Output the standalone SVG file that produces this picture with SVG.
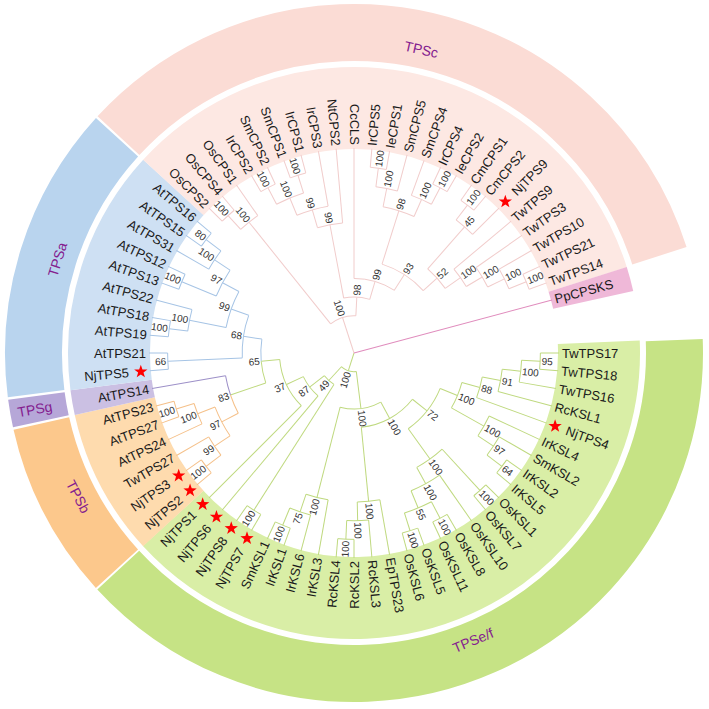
<svg xmlns="http://www.w3.org/2000/svg" width="709" height="709" viewBox="0 0 709 709">
<style>
.e{fill:none;stroke-width:1}
.g{stroke:#bfd97f}
.o{stroke:#f5c089}
.p{stroke:#9d90c8}
.b{stroke:#a6c4e5}
.k{stroke:#f1cccb}
.m{stroke:#e08cbd}
.bd{fill:none}
.lf{font-family:"Liberation Sans",Arial,sans-serif;font-size:13px;fill:#1a1a1a;dominant-baseline:central}
.bs{font-family:"Liberation Sans",Arial,sans-serif;font-size:10px;fill:#333;dominant-baseline:central}
.cl{font-family:"Liberation Sans",Arial,sans-serif;font-size:14px;fill:#84208f;dominant-baseline:central;text-anchor:middle}
.l{text-anchor:end}
.st{fill:#f00}
</style>
<defs>
<path id="star" d="M0,-7L1.646,-2.265L6.657,-2.163L2.663,0.865L4.114,5.663L0,2.8L-4.114,5.663L-2.663,0.865L-6.657,-2.163L-1.646,-2.265Z"/>
</defs>
<rect width="709" height="709" fill="#fff"/>
<g transform="translate(354,353)">
<g id="bands">
<g id="band-TPSef"><circle class="bd" r="245" stroke="#d9eea6" stroke-width="82" stroke-dasharray="598.65 3000" transform="rotate(-2.5)"/><circle class="bd" r="320.5" stroke="#c6e385" stroke-width="57" stroke-dasharray="780.89 3000" transform="rotate(-2.3)"/><text class="cl" transform="rotate(67.5) translate(311,0) rotate(-90)">TPSe/f</text></g>
<g id="band-TPSb"><circle class="bd" r="245" stroke="#fedbae" stroke-width="82" stroke-dasharray="128.28 3000" transform="rotate(137.5)"/><circle class="bd" r="320.5" stroke="#fcc88c" stroke-width="57" stroke-dasharray="165.58 3000" transform="rotate(137.7)"/><text class="cl" transform="rotate(152.5) translate(311,0) rotate(-90)">TPSb</text></g>
<g id="band-TPSg"><circle class="bd" r="245" stroke="#cbc0e3" stroke-width="82" stroke-dasharray="21.38 3000" transform="rotate(167.5)"/><circle class="bd" r="320.5" stroke="#b6a7d8" stroke-width="57" stroke-dasharray="25.73 3000" transform="rotate(167.7)"/><text class="cl" transform="rotate(170) translate(324,0) rotate(180)">TPSg</text></g>
<g id="band-TPSa"><circle class="bd" r="245" stroke="#cee0f3" stroke-width="82" stroke-dasharray="213.80 3000" transform="rotate(172.5)"/><circle class="bd" r="320.5" stroke="#b9d4ee" stroke-width="57" stroke-dasharray="277.45 3000" transform="rotate(172.7)"/><text class="cl" transform="rotate(197.5) translate(311,0) rotate(90)">TPSa</text></g>
<g id="band-TPSc"><circle class="bd" r="245" stroke="#fde8e3" stroke-width="82" stroke-dasharray="513.13 3000" transform="rotate(222.5)"/><circle class="bd" r="320.5" stroke="#fbdcd5" stroke-width="57" stroke-dasharray="669.02 3000" transform="rotate(222.7)"/><text class="cl" transform="rotate(282.5) translate(311,0) rotate(90)">TPSc</text></g>
<g id="band-Pp"><circle class="bd" r="245" stroke="#efb8d8" stroke-width="82" stroke-dasharray="21.38 3000" transform="rotate(342.5)"/></g>
</g>
<g id="connectors">
<g class="e g">
<path d="M186.4 0H205"/>
<path d="M186.4 0H205" transform="rotate(5)"/>
<path d="M167.7 0H205" transform="rotate(10)"/>
<path d="M149.1 0H205" transform="rotate(15)"/>
<path d="M130.5 0H205" transform="rotate(20)"/>
<path d="M149.1 0H205" transform="rotate(25)"/>
<path d="M167.7 0H205" transform="rotate(30)"/>
<path d="M186.4 0H205" transform="rotate(35)"/>
<path d="M186.4 0H205" transform="rotate(40)"/>
<path d="M186.4 0H205" transform="rotate(45)"/>
<path d="M186.4 0H205" transform="rotate(50)"/>
<path d="M149.1 0H205" transform="rotate(55)"/>
<path d="M186.4 0H205" transform="rotate(60)"/>
<path d="M186.4 0H205" transform="rotate(65)"/>
<path d="M186.4 0H205" transform="rotate(70)"/>
<path d="M186.4 0H205" transform="rotate(75)"/>
<path d="M149.1 0H205" transform="rotate(80)"/>
<path d="M167.7 0H205" transform="rotate(85)"/>
<path d="M186.4 0H205" transform="rotate(90)"/>
<path d="M186.4 0H205" transform="rotate(95)"/>
<path d="M149.1 0H205" transform="rotate(100)"/>
<path d="M167.7 0H205" transform="rotate(105)"/>
<path d="M186.4 0H205" transform="rotate(110)"/>
<path d="M186.4 0H205" transform="rotate(115)"/>
<path d="M186.4 0H205" transform="rotate(120)"/>
<path d="M186.4 0H205" transform="rotate(125)"/>
<path d="M55.9 0H205" transform="rotate(130)"/>
<path d="M74.5 0H205" transform="rotate(135)"/>
<path d="M167.7 0H186.4" transform="rotate(2.5)"/>
<path d="M149.1 0H167.7" transform="rotate(6.25)"/>
<path d="M130.5 0H149.1" transform="rotate(10.625)"/>
<path d="M111.8 0H130.5" transform="rotate(15.3125)"/>
<path d="M167.7 0H186.4" transform="rotate(37.5)"/>
<path d="M149.1 0H167.7" transform="rotate(33.75)"/>
<path d="M111.8 0H149.1" transform="rotate(29.375)"/>
<path d="M93.2 0H111.8" transform="rotate(22.344)"/>
<path d="M130.5 0H186.4" transform="rotate(47.5)"/>
<path d="M167.7 0H186.4" transform="rotate(62.5)"/>
<path d="M167.7 0H186.4" transform="rotate(72.5)"/>
<path d="M149.1 0H167.7" transform="rotate(67.5)"/>
<path d="M130.5 0H149.1" transform="rotate(61.25)"/>
<path d="M93.2 0H130.5" transform="rotate(54.375)"/>
<path d="M74.5 0H93.2" transform="rotate(38.359)"/>
<path d="M167.7 0H186.4" transform="rotate(92.5)"/>
<path d="M149.1 0H167.7" transform="rotate(88.75)"/>
<path d="M74.5 0H149.1" transform="rotate(84.375)"/>
<path d="M55.9 0H74.5" transform="rotate(61.367)"/>
<path d="M167.7 0H186.4" transform="rotate(112.5)"/>
<path d="M149.1 0H167.7" transform="rotate(108.75)"/>
<path d="M55.9 0H149.1" transform="rotate(104.375)"/>
<path d="M18.6 0H55.9" transform="rotate(82.871)"/>
<path d="M37.3 0H186.4" transform="rotate(122.5)"/>
<path d="M93.2 0H130.5" transform="rotate(161.25)"/>
<path d="M74.5 0H93.2" transform="rotate(174.922)"/>
<path d="M55.9 0H74.5" transform="rotate(154.961)"/>
<path d="M37.3 0H55.9" transform="rotate(142.48)"/>
<path d="M18.6 0H37.3" transform="rotate(132.49)"/>
<path d="M0 0H18.6" transform="rotate(107.68)"/>
<circle r="186.36" stroke-dasharray="16.26 3000"/>
<circle r="167.73" stroke-dasharray="21.96 3000" transform="rotate(2.5)"/>
<circle r="149.09" stroke-dasharray="22.77 3000" transform="rotate(6.25)"/>
<circle r="130.45" stroke-dasharray="21.35 3000" transform="rotate(10.625)"/>
<circle r="186.36" stroke-dasharray="16.26 3000" transform="rotate(35)"/>
<circle r="167.73" stroke-dasharray="21.96 3000" transform="rotate(30)"/>
<circle r="149.09" stroke-dasharray="22.77 3000" transform="rotate(25)"/>
<circle r="111.82" stroke-dasharray="27.44 3000" transform="rotate(15.3125)"/>
<circle r="186.36" stroke-dasharray="16.26 3000" transform="rotate(45)"/>
<circle r="186.36" stroke-dasharray="16.26 3000" transform="rotate(60)"/>
<circle r="186.36" stroke-dasharray="16.26 3000" transform="rotate(70)"/>
<circle r="167.73" stroke-dasharray="29.27 3000" transform="rotate(62.5)"/>
<circle r="149.09" stroke-dasharray="32.53 3000" transform="rotate(55)"/>
<circle r="130.45" stroke-dasharray="31.31 3000" transform="rotate(47.5)"/>
<circle r="93.18" stroke-dasharray="52.09 3000" transform="rotate(22.344)"/>
<circle r="186.36" stroke-dasharray="16.26 3000" transform="rotate(90)"/>
<circle r="167.73" stroke-dasharray="21.96 3000" transform="rotate(85)"/>
<circle r="149.09" stroke-dasharray="22.77 3000" transform="rotate(80)"/>
<circle r="74.55" stroke-dasharray="59.87 3000" transform="rotate(38.359)"/>
<circle r="186.36" stroke-dasharray="16.26 3000" transform="rotate(110)"/>
<circle r="167.73" stroke-dasharray="21.96 3000" transform="rotate(105)"/>
<circle r="149.09" stroke-dasharray="22.77 3000" transform="rotate(100)"/>
<circle r="55.91" stroke-dasharray="41.97 3000" transform="rotate(61.367)"/>
<circle r="186.36" stroke-dasharray="16.26 3000" transform="rotate(120)"/>
<circle r="93.18" stroke-dasharray="22.23 3000" transform="rotate(161.25)"/>
<circle r="74.55" stroke-dasharray="51.94 3000" transform="rotate(135)"/>
<circle r="55.91" stroke-dasharray="24.36 3000" transform="rotate(130)"/>
<circle r="37.27" stroke-dasharray="13.00 3000" transform="rotate(122.5)"/>
<circle r="18.64" stroke-dasharray="16.14 3000" transform="rotate(82.871)"/>
</g>
<g class="e o">
<path d="M186.4 0H205" transform="rotate(140)"/>
<path d="M186.4 0H205" transform="rotate(145)"/>
<path d="M167.7 0H205" transform="rotate(150)"/>
<path d="M167.7 0H205" transform="rotate(155)"/>
<path d="M186.4 0H205" transform="rotate(160)"/>
<path d="M186.4 0H205" transform="rotate(165)"/>
<path d="M167.7 0H186.4" transform="rotate(142.5)"/>
<path d="M149.1 0H167.7" transform="rotate(146.25)"/>
<path d="M167.7 0H186.4" transform="rotate(162.5)"/>
<path d="M149.1 0H167.7" transform="rotate(158.75)"/>
<path d="M130.5 0H149.1" transform="rotate(152.5)"/>
<circle r="186.36" stroke-dasharray="16.26 3000" transform="rotate(140)"/>
<circle r="167.73" stroke-dasharray="21.96 3000" transform="rotate(142.5)"/>
<circle r="186.36" stroke-dasharray="16.26 3000" transform="rotate(160)"/>
<circle r="167.73" stroke-dasharray="21.96 3000" transform="rotate(155)"/>
<circle r="149.09" stroke-dasharray="32.53 3000" transform="rotate(146.25)"/>
<circle r="130.45" stroke-dasharray="19.92 3000" transform="rotate(152.5)"/>
</g>
<g class="e p">
<path d="M130.5 0H205" transform="rotate(170)"/>
<circle r="130.45" stroke-dasharray="19.92 3000" transform="rotate(161.25)"/>
</g>
<g class="e b">
<path d="M186.4 0H205" transform="rotate(175)"/>
<path d="M186.4 0H205" transform="rotate(180)"/>
<path d="M186.4 0H205" transform="rotate(185)"/>
<path d="M186.4 0H205" transform="rotate(190)"/>
<path d="M167.7 0H205" transform="rotate(195)"/>
<path d="M186.4 0H205" transform="rotate(200)"/>
<path d="M186.4 0H205" transform="rotate(205)"/>
<path d="M167.7 0H205" transform="rotate(210)"/>
<path d="M186.4 0H205" transform="rotate(215)"/>
<path d="M186.4 0H205" transform="rotate(220)"/>
<path d="M111.8 0H186.4" transform="rotate(177.5)"/>
<path d="M167.7 0H186.4" transform="rotate(187.5)"/>
<path d="M130.5 0H167.7" transform="rotate(191.25)"/>
<path d="M149.1 0H186.4" transform="rotate(202.5)"/>
<path d="M167.7 0H186.4" transform="rotate(217.5)"/>
<path d="M149.1 0H167.7" transform="rotate(213.75)"/>
<path d="M130.5 0H149.1" transform="rotate(208.125)"/>
<path d="M111.8 0H130.5" transform="rotate(199.6875)"/>
<path d="M93.2 0H111.8" transform="rotate(188.594)"/>
<circle r="186.36" stroke-dasharray="16.26 3000" transform="rotate(175)"/>
<circle r="186.36" stroke-dasharray="16.26 3000" transform="rotate(185)"/>
<circle r="167.73" stroke-dasharray="21.96 3000" transform="rotate(187.5)"/>
<circle r="186.36" stroke-dasharray="16.26 3000" transform="rotate(200)"/>
<circle r="186.36" stroke-dasharray="16.26 3000" transform="rotate(215)"/>
<circle r="167.73" stroke-dasharray="21.96 3000" transform="rotate(210)"/>
<circle r="149.09" stroke-dasharray="29.27 3000" transform="rotate(202.5)"/>
<circle r="130.45" stroke-dasharray="38.42 3000" transform="rotate(191.25)"/>
<circle r="111.82" stroke-dasharray="43.30 3000" transform="rotate(177.5)"/>
<circle r="93.18" stroke-dasharray="22.23 3000" transform="rotate(174.922)"/>
</g>
<g class="e k">
<path d="M186.4 0H205" transform="rotate(225)"/>
<path d="M186.4 0H205" transform="rotate(230)"/>
<path d="M167.7 0H205" transform="rotate(235)"/>
<path d="M186.4 0H205" transform="rotate(240)"/>
<path d="M186.4 0H205" transform="rotate(245)"/>
<path d="M186.4 0H205" transform="rotate(250)"/>
<path d="M186.4 0H205" transform="rotate(255)"/>
<path d="M149.1 0H205" transform="rotate(260)"/>
<path d="M130.5 0H205" transform="rotate(265)"/>
<path d="M74.5 0H205" transform="rotate(270)"/>
<path d="M186.4 0H205" transform="rotate(275)"/>
<path d="M186.4 0H205" transform="rotate(280)"/>
<path d="M167.7 0H205" transform="rotate(285)"/>
<path d="M167.7 0H205" transform="rotate(290)"/>
<path d="M186.4 0H205" transform="rotate(295)"/>
<path d="M186.4 0H205" transform="rotate(300)"/>
<path d="M186.4 0H205" transform="rotate(305)"/>
<path d="M186.4 0H205" transform="rotate(310)"/>
<path d="M167.7 0H205" transform="rotate(315)"/>
<path d="M130.5 0H205" transform="rotate(320)"/>
<path d="M149.1 0H205" transform="rotate(325)"/>
<path d="M167.7 0H205" transform="rotate(330)"/>
<path d="M186.4 0H205" transform="rotate(335)"/>
<path d="M186.4 0H205" transform="rotate(340)"/>
<path d="M167.7 0H186.4" transform="rotate(227.5)"/>
<path d="M37.3 0H167.7" transform="rotate(231.25)"/>
<path d="M167.7 0H186.4" transform="rotate(242.5)"/>
<path d="M167.7 0H186.4" transform="rotate(252.5)"/>
<path d="M149.1 0H167.7" transform="rotate(247.5)"/>
<path d="M130.5 0H149.1" transform="rotate(253.75)"/>
<path d="M55.9 0H130.5" transform="rotate(259.375)"/>
<path d="M167.7 0H186.4" transform="rotate(277.5)"/>
<path d="M149.1 0H167.7" transform="rotate(281.25)"/>
<path d="M167.7 0H186.4" transform="rotate(297.5)"/>
<path d="M149.1 0H167.7" transform="rotate(293.75)"/>
<path d="M93.2 0H149.1" transform="rotate(287.5)"/>
<path d="M167.7 0H186.4" transform="rotate(307.5)"/>
<path d="M111.8 0H167.7" transform="rotate(311.25)"/>
<path d="M167.7 0H186.4" transform="rotate(337.5)"/>
<path d="M149.1 0H167.7" transform="rotate(333.75)"/>
<path d="M130.5 0H149.1" transform="rotate(329.375)"/>
<path d="M111.8 0H130.5" transform="rotate(324.6875)"/>
<path d="M93.2 0H111.8" transform="rotate(317.969)"/>
<path d="M74.5 0H93.2" transform="rotate(302.734)"/>
<path d="M55.9 0H74.5" transform="rotate(286.367)"/>
<path d="M37.3 0H55.9" transform="rotate(272.871)"/>
<path d="M0 0H37.3" transform="rotate(252.06)"/>
<circle r="186.36" stroke-dasharray="16.26 3000" transform="rotate(225)"/>
<circle r="167.73" stroke-dasharray="21.96 3000" transform="rotate(227.5)"/>
<circle r="186.36" stroke-dasharray="16.26 3000" transform="rotate(240)"/>
<circle r="186.36" stroke-dasharray="16.26 3000" transform="rotate(250)"/>
<circle r="167.73" stroke-dasharray="29.27 3000" transform="rotate(242.5)"/>
<circle r="149.09" stroke-dasharray="32.53 3000" transform="rotate(247.5)"/>
<circle r="130.45" stroke-dasharray="25.61 3000" transform="rotate(253.75)"/>
<circle r="186.36" stroke-dasharray="16.26 3000" transform="rotate(275)"/>
<circle r="167.73" stroke-dasharray="21.96 3000" transform="rotate(277.5)"/>
<circle r="186.36" stroke-dasharray="16.26 3000" transform="rotate(295)"/>
<circle r="167.73" stroke-dasharray="21.96 3000" transform="rotate(290)"/>
<circle r="149.09" stroke-dasharray="32.53 3000" transform="rotate(281.25)"/>
<circle r="186.36" stroke-dasharray="16.26 3000" transform="rotate(305)"/>
<circle r="167.73" stroke-dasharray="21.96 3000" transform="rotate(307.5)"/>
<circle r="186.36" stroke-dasharray="16.26 3000" transform="rotate(335)"/>
<circle r="167.73" stroke-dasharray="21.96 3000" transform="rotate(330)"/>
<circle r="149.09" stroke-dasharray="22.77 3000" transform="rotate(325)"/>
<circle r="130.45" stroke-dasharray="21.35 3000" transform="rotate(320)"/>
<circle r="111.82" stroke-dasharray="26.22 3000" transform="rotate(311.25)"/>
<circle r="93.18" stroke-dasharray="49.55 3000" transform="rotate(287.5)"/>
<circle r="74.55" stroke-dasharray="42.59 3000" transform="rotate(270)"/>
<circle r="55.91" stroke-dasharray="26.34 3000" transform="rotate(259.375)"/>
<circle r="37.27" stroke-dasharray="27.08 3000" transform="rotate(231.25)"/>
</g>
<g class="e m"><path d="M0 0H205" transform="rotate(345)"/></g>
</g>
<g id="bootstrap" class="bs">
<text transform="rotate(2.5) translate(187.9,0)">95</text>
<text transform="rotate(6.25) translate(169.2,0)">100</text>
<text transform="rotate(10.625) translate(150.6,0)">91</text>
<text transform="rotate(15.3125) translate(132,0)">88</text>
<text transform="rotate(22.344) translate(113.3,0)">100</text>
<text transform="rotate(37.5) translate(187.9,0)">64</text>
<text transform="rotate(33.75) translate(169.2,0)">97</text>
<text transform="rotate(29.375) translate(150.6,0)">100</text>
<text transform="rotate(47.5) translate(187.9,0)">100</text>
<text transform="rotate(62.5) translate(187.9,0)">100</text>
<text transform="rotate(72.5) translate(187.9,0)">100</text>
<text transform="rotate(67.5) translate(169.2,0)">55</text>
<text transform="rotate(61.25) translate(150.6,0)">100</text>
<text transform="rotate(54.375) translate(132,0)">100</text>
<text transform="rotate(38.359) translate(94.7,0)">72</text>
<text transform="rotate(88.75) translate(169.2,0)">100</text>
<text transform="rotate(84.375) translate(150.6,0)">100</text>
<text transform="rotate(61.367) translate(76,0)">100</text>
<text transform="rotate(82.871) translate(57.4,0)">100</text>
<text transform="rotate(277.5) translate(187.9,0)">100</text>
<text transform="rotate(281.25) translate(169.2,0)">100</text>
<text transform="rotate(297.5) translate(187.9,0)">100</text>
<text transform="rotate(293.75) translate(169.2,0)">100</text>
<text transform="rotate(287.5) translate(150.6,0)">98</text>
<text transform="rotate(307.5) translate(187.9,0)">100</text>
<text transform="rotate(311.25) translate(169.2,0)">45</text>
<text transform="rotate(337.5) translate(187.9,0)">100</text>
<text transform="rotate(333.75) translate(169.2,0)">100</text>
<text transform="rotate(329.375) translate(150.6,0)">100</text>
<text transform="rotate(324.6875) translate(132,0)">100</text>
<text transform="rotate(317.969) translate(113.3,0)">52</text>
<text transform="rotate(302.734) translate(94.7,0)">93</text>
<text transform="rotate(286.367) translate(76,0)">99</text>
<text transform="rotate(272.871) translate(57.4,0)">98</text>
<text class="l" transform="rotate(92.5) translate(187.9,0) rotate(180)">100</text>
<text class="l" transform="rotate(112.5) translate(187.9,0) rotate(180)">100</text>
<text class="l" transform="rotate(108.75) translate(169.2,0) rotate(180)">75</text>
<text class="l" transform="rotate(104.375) translate(150.6,0) rotate(180)">100</text>
<text class="l" transform="rotate(122.5) translate(187.9,0) rotate(180)">100</text>
<text class="l" transform="rotate(142.5) translate(187.9,0) rotate(180)">100</text>
<text class="l" transform="rotate(146.25) translate(169.2,0) rotate(180)">99</text>
<text class="l" transform="rotate(162.5) translate(187.9,0) rotate(180)">100</text>
<text class="l" transform="rotate(158.75) translate(169.2,0) rotate(180)">100</text>
<text class="l" transform="rotate(152.5) translate(150.6,0) rotate(180)">97</text>
<text class="l" transform="rotate(161.25) translate(132,0) rotate(180)">83</text>
<text class="l" transform="rotate(177.5) translate(187.9,0) rotate(180)">66</text>
<text class="l" transform="rotate(187.5) translate(187.9,0) rotate(180)">100</text>
<text class="l" transform="rotate(191.25) translate(169.2,0) rotate(180)">100</text>
<text class="l" transform="rotate(202.5) translate(187.9,0) rotate(180)">100</text>
<text class="l" transform="rotate(217.5) translate(187.9,0) rotate(180)">80</text>
<text class="l" transform="rotate(213.75) translate(169.2,0) rotate(180)">100</text>
<text class="l" transform="rotate(208.125) translate(150.6,0) rotate(180)">97</text>
<text class="l" transform="rotate(199.6875) translate(132,0) rotate(180)">99</text>
<text class="l" transform="rotate(188.594) translate(113.3,0) rotate(180)">68</text>
<text class="l" transform="rotate(174.922) translate(94.7,0) rotate(180)">65</text>
<text class="l" transform="rotate(154.961) translate(76,0) rotate(180)">37</text>
<text class="l" transform="rotate(142.48) translate(57.4,0) rotate(180)">87</text>
<text class="l" transform="rotate(132.49) translate(38.8,0) rotate(180)">49</text>
<text class="l" transform="rotate(107.68) translate(20.1,0) rotate(180)">100</text>
<text class="l" transform="rotate(227.5) translate(187.9,0) rotate(180)">100</text>
<text class="l" transform="rotate(231.25) translate(169.2,0) rotate(180)">100</text>
<text class="l" transform="rotate(242.5) translate(187.9,0) rotate(180)">100</text>
<text class="l" transform="rotate(252.5) translate(187.9,0) rotate(180)">100</text>
<text class="l" transform="rotate(247.5) translate(169.2,0) rotate(180)">100</text>
<text class="l" transform="rotate(253.75) translate(150.6,0) rotate(180)">99</text>
<text class="l" transform="rotate(259.375) translate(132,0) rotate(180)">99</text>
<text class="l" transform="rotate(252.06) translate(38.8,0) rotate(180)">100</text>
</g>
<g id="leaves" class="lf">
<g id="TwTPS17"><text transform="rotate(0) translate(208,0)">TwTPS17</text></g>
<g id="TwTPS18"><text transform="rotate(5) translate(208,0)">TwTPS18</text></g>
<g id="TwTPS16"><text transform="rotate(10) translate(208,0)">TwTPS16</text></g>
<g id="RcKSL1"><text transform="rotate(15) translate(208,0)">RcKSL1</text></g>
<g id="NjTPS4"><use href="#star" class="st" transform="rotate(20) translate(214,0) rotate(-20)"/><text transform="rotate(20) translate(226,0)">NjTPS4</text></g>
<g id="IrKSL4"><text transform="rotate(25) translate(208,0)">IrKSL4</text></g>
<g id="SmKSL2"><text transform="rotate(30) translate(208,0)">SmKSL2</text></g>
<g id="IrKSL2"><text transform="rotate(35) translate(208,0)">IrKSL2</text></g>
<g id="IrKSL5"><text transform="rotate(40) translate(208,0)">IrKSL5</text></g>
<g id="OsKSL1"><text transform="rotate(45) translate(208,0)">OsKSL1</text></g>
<g id="OsKSL7"><text transform="rotate(50) translate(208,0)">OsKSL7</text></g>
<g id="OsKSL10"><text transform="rotate(55) translate(208,0)">OsKSL10</text></g>
<g id="OsKSL8"><text transform="rotate(60) translate(208,0)">OsKSL8</text></g>
<g id="OsKSL11"><text transform="rotate(65) translate(208,0)">OsKSL11</text></g>
<g id="OsKSL5"><text transform="rotate(70) translate(208,0)">OsKSL5</text></g>
<g id="OsKSL6"><text transform="rotate(75) translate(208,0)">OsKSL6</text></g>
<g id="EpTPS23"><text transform="rotate(80) translate(208,0)">EpTPS23</text></g>
<g id="RcKSL3"><text transform="rotate(85) translate(208,0)">RcKSL3</text></g>
<g id="RcKSL2"><text class="l" transform="rotate(90) translate(208,0) rotate(180)">RcKSL2</text></g>
<g id="RcKSL4"><text class="l" transform="rotate(95) translate(208,0) rotate(180)">RcKSL4</text></g>
<g id="IrKSL3"><text class="l" transform="rotate(100) translate(208,0) rotate(180)">IrKSL3</text></g>
<g id="IrKSL6"><text class="l" transform="rotate(105) translate(208,0) rotate(180)">IrKSL6</text></g>
<g id="IrKSL1"><text class="l" transform="rotate(110) translate(208,0) rotate(180)">IrKSL1</text></g>
<g id="SmKSL1"><text class="l" transform="rotate(115) translate(208,0) rotate(180)">SmKSL1</text></g>
<g id="NjTPS7"><use href="#star" class="st" transform="rotate(120) translate(214,0) rotate(-120)"/><text class="l" transform="rotate(120) translate(226,0) rotate(180)">NjTPS7</text></g>
<g id="NjTPS8"><use href="#star" class="st" transform="rotate(125) translate(214,0) rotate(-125)"/><text class="l" transform="rotate(125) translate(226,0) rotate(180)">NjTPS8</text></g>
<g id="NjTPS6"><use href="#star" class="st" transform="rotate(130) translate(214,0) rotate(-130)"/><text class="l" transform="rotate(130) translate(226,0) rotate(180)">NjTPS6</text></g>
<g id="NjTPS1"><use href="#star" class="st" transform="rotate(135) translate(214,0) rotate(-135)"/><text class="l" transform="rotate(135) translate(226,0) rotate(180)">NjTPS1</text></g>
<g id="NjTPS2"><use href="#star" class="st" transform="rotate(140) translate(214,0) rotate(-140)"/><text class="l" transform="rotate(140) translate(226,0) rotate(180)">NjTPS2</text></g>
<g id="NjTPS3"><use href="#star" class="st" transform="rotate(145) translate(214,0) rotate(-145)"/><text class="l" transform="rotate(145) translate(226,0) rotate(180)">NjTPS3</text></g>
<g id="TwTPS27"><text class="l" transform="rotate(150) translate(208,0) rotate(180)">TwTPS27</text></g>
<g id="AtTPS24"><text class="l" transform="rotate(155) translate(208,0) rotate(180)">AtTPS24</text></g>
<g id="AtTPS27"><text class="l" transform="rotate(160) translate(208,0) rotate(180)">AtTPS27</text></g>
<g id="AtTPS23"><text class="l" transform="rotate(165) translate(208,0) rotate(180)">AtTPS23</text></g>
<g id="AtTPS14"><text class="l" transform="rotate(170) translate(208,0) rotate(180)">AtTPS14</text></g>
<g id="NjTPS5"><use href="#star" class="st" transform="rotate(175) translate(214,0) rotate(-175)"/><text class="l" transform="rotate(175) translate(226,0) rotate(180)">NjTPS5</text></g>
<g id="AtTPS21"><text class="l" transform="rotate(180) translate(208,0) rotate(180)">AtTPS21</text></g>
<g id="AtTPS19"><text class="l" transform="rotate(185) translate(208,0) rotate(180)">AtTPS19</text></g>
<g id="AtTPS18"><text class="l" transform="rotate(190) translate(208,0) rotate(180)">AtTPS18</text></g>
<g id="AtTPS22"><text class="l" transform="rotate(195) translate(208,0) rotate(180)">AtTPS22</text></g>
<g id="AtTPS13"><text class="l" transform="rotate(200) translate(208,0) rotate(180)">AtTPS13</text></g>
<g id="AtTPS12"><text class="l" transform="rotate(205) translate(208,0) rotate(180)">AtTPS12</text></g>
<g id="AtTPS31"><text class="l" transform="rotate(210) translate(208,0) rotate(180)">AtTPS31</text></g>
<g id="AtTPS15"><text class="l" transform="rotate(215) translate(208,0) rotate(180)">AtTPS15</text></g>
<g id="AtTPS16"><text class="l" transform="rotate(220) translate(208,0) rotate(180)">AtTPS16</text></g>
<g id="OsCPS2"><text class="l" transform="rotate(225) translate(208,0) rotate(180)">OsCPS2</text></g>
<g id="OsCPS4"><text class="l" transform="rotate(230) translate(208,0) rotate(180)">OsCPS4</text></g>
<g id="OsCPS1"><text class="l" transform="rotate(235) translate(208,0) rotate(180)">OsCPS1</text></g>
<g id="IrCPS2"><text class="l" transform="rotate(240) translate(208,0) rotate(180)">IrCPS2</text></g>
<g id="SmCPS2"><text class="l" transform="rotate(245) translate(208,0) rotate(180)">SmCPS2</text></g>
<g id="SmCPS1"><text class="l" transform="rotate(250) translate(208,0) rotate(180)">SmCPS1</text></g>
<g id="IrCPS1"><text class="l" transform="rotate(255) translate(208,0) rotate(180)">IrCPS1</text></g>
<g id="IrCPS3"><text class="l" transform="rotate(260) translate(208,0) rotate(180)">IrCPS3</text></g>
<g id="NtCPS2"><text class="l" transform="rotate(265) translate(208,0) rotate(180)">NtCPS2</text></g>
<g id="CcCLS"><text class="l" transform="rotate(270) translate(208,0) rotate(180)">CcCLS</text></g>
<g id="IrCPS5"><text transform="rotate(275) translate(208,0)">IrCPS5</text></g>
<g id="IeCPS1"><text transform="rotate(280) translate(208,0)">IeCPS1</text></g>
<g id="SmCPS5"><text transform="rotate(285) translate(208,0)">SmCPS5</text></g>
<g id="SmCPS4"><text transform="rotate(290) translate(208,0)">SmCPS4</text></g>
<g id="IrCPS4"><text transform="rotate(295) translate(208,0)">IrCPS4</text></g>
<g id="IeCPS2"><text transform="rotate(300) translate(208,0)">IeCPS2</text></g>
<g id="CmCPS1"><text transform="rotate(305) translate(208,0)">CmCPS1</text></g>
<g id="CmCPS2"><text transform="rotate(310) translate(208,0)">CmCPS2</text></g>
<g id="NjTPS9"><use href="#star" class="st" transform="rotate(315) translate(214,0) rotate(-315)"/><text transform="rotate(315) translate(226,0)">NjTPS9</text></g>
<g id="TwTPS9"><text transform="rotate(320) translate(208,0)">TwTPS9</text></g>
<g id="TwTPS3"><text transform="rotate(325) translate(208,0)">TwTPS3</text></g>
<g id="TwTPS10"><text transform="rotate(330) translate(208,0)">TwTPS10</text></g>
<g id="TwTPS21"><text transform="rotate(335) translate(208,0)">TwTPS21</text></g>
<g id="TwTPS14"><text transform="rotate(340) translate(208,0)">TwTPS14</text></g>
<g id="PpCPSKS"><text transform="rotate(345) translate(208,0)">PpCPSKS</text></g>
</g>
</g>
</svg>
